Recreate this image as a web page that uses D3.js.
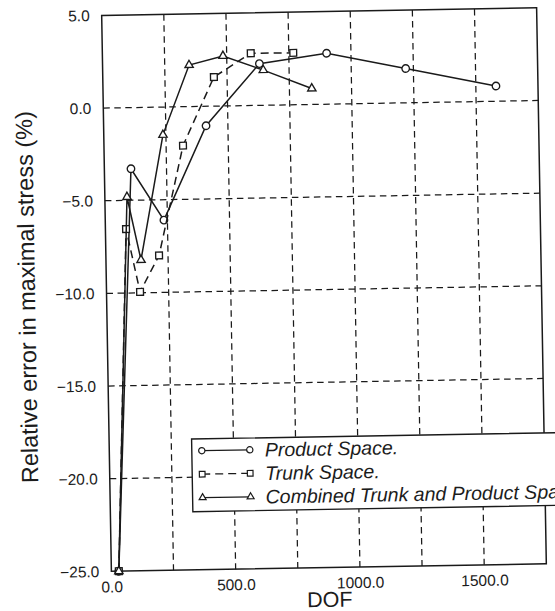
<!DOCTYPE html>
<html>
<head>
<meta charset="utf-8">
<script src="https://cdn.jsdelivr.net/npm/d3@7"></script>
<style>
  html, body { margin: 0; padding: 0; background: #fff; }
  svg { display: block; }
  text { font-family: "Liberation Sans", Arial, Helvetica, sans-serif; fill: #1c1c1c; }
</style>
</head>
<body>
<svg id="chart" width="555" height="611"></svg>
<script>
// Relative error in maximal stress versus number of degrees of freedom
const productDOF   = [30, 107, 236, 412, 631, 902, 1219, 1581];
const productErr   = [-25, -3.3, -6.1, -1.05, 2.25, 2.75, 1.85, 0.82];
const trunkDOF     = [30, 83, 135, 214, 318, 447, 597, 768];
const trunkErr     = [-25, -6.55, -9.95, -8.0, -2.1, 1.57, 2.82, 2.8];
const combinedDOF  = [30, 89, 141, 238, 348, 485, 646, 840];
const combinedErr  = [-25, -4.82, -8.23, -1.5, 2.24, 2.7, 1.9, 0.86];
const seriesNames  = ["Product Space.", "Trunk Space.", "Combined Trunk and Product Space."];
const xTicks       = [0, 500, 1000, 1500];
const xGrid        = [250, 500, 750, 1000, 1250, 1500];
const yTicks       = [5, 0, -5, -10, -15, -20, -25];
const yGrid        = [0, -5, -10, -15, -20];

const ink = "#1a1a1a";
const margin = { left: 106.5, top: 11.6 };
const width = 435, height = 556;

const svg = d3.select("#chart");
// the printed page sits at a slight tilt
const page = svg.append("g").attr("transform", "rotate(-1, 324, 289.6)");
const g = page.append("g").attr("transform", `translate(${margin.left},${margin.top})`);

const x = d3.scaleLinear().domain([0, 1750]).range([0, width]);
const y = d3.scaleLinear().domain([-25, 5]).range([height, 0]);

// grid
g.append("g").selectAll("line").data(xGrid).join("line")
  .attr("x1", d => x(d)).attr("x2", d => x(d))
  .attr("y1", 0).attr("y2", height)
  .attr("stroke", ink).attr("stroke-width", 1.25).attr("stroke-dasharray", "6.5,4.5");
g.append("g").selectAll("line").data(yGrid).join("line")
  .attr("y1", d => y(d)).attr("y2", d => y(d))
  .attr("x1", 0).attr("x2", width)
  .attr("stroke", ink).attr("stroke-width", 1.25).attr("stroke-dasharray", "6.5,4.5");

// frame
g.append("rect").attr("x", 0).attr("y", 0).attr("width", width).attr("height", height)
  .attr("fill", "none").attr("stroke", ink).attr("stroke-width", 1.5);

// axes (labels only; the frame is the axis line)
const xAxis = d3.axisBottom(x).tickValues(xTicks).tickFormat(d3.format(".1f")).tickSize(0).tickPadding(10);
const gx = g.append("g").attr("transform", `translate(0,${height})`).call(xAxis);
gx.select(".domain").remove();
gx.selectAll("text").attr("font-size", 15.5).attr("fill", ink)
  .attr("font-family", '"Liberation Sans", Arial, sans-serif');

const yAxis = d3.axisLeft(y).tickValues(yTicks).tickFormat(d3.format(".1f")).tickSize(0).tickPadding(12);
const gy = g.append("g").call(yAxis);
gy.select(".domain").remove();
gy.selectAll("text").attr("font-size", 15.5).attr("fill", ink)
  .attr("font-family", '"Liberation Sans", Arial, sans-serif');

// axis titles
page.append("text").attr("x", 324.4).attr("y", 607).attr("text-anchor", "middle")
  .attr("font-size", 21.5).text("DOF");
page.append("text").attr("transform", "translate(35,292) rotate(-90)")
  .attr("text-anchor", "middle").attr("font-size", 23.5)
  .text("Relative error in maximal stress (%)");

// series
const series = [
  { name: seriesNames[0], xs: productDOF,  ys: productErr,  dash: null,  symbol: d3.symbolCircle,   size: 44 },
  { name: seriesNames[1], xs: trunkDOF,    ys: trunkErr,    dash: "8,5", symbol: d3.symbolSquare,   size: 46 },
  { name: seriesNames[2], xs: combinedDOF, ys: combinedErr, dash: null,  symbol: d3.symbolTriangle, size: 30 }
];

const line = d3.line().x(d => x(d[0])).y(d => y(d[1]));

series.forEach(s => {
  const pts = s.xs.map((v, i) => [v, s.ys[i]]);
  g.append("path").datum(pts).attr("d", line)
    .attr("fill", "none").attr("stroke", ink).attr("stroke-width", 1.5)
    .attr("stroke-dasharray", s.dash);
  g.append("g").selectAll("path").data(pts).join("path")
    .attr("transform", d => `translate(${x(d[0])},${y(d[1])})`)
    .attr("d", d3.symbol().type(s.symbol).size(s.size))
    .attr("fill", "#fff").attr("stroke", ink).attr("stroke-width", 1.35);
});

// legend
const lg = page.append("g").attr("transform", "translate(189,436.7)");
lg.append("rect").attr("x", 0).attr("y", 0).attr("width", 420).attr("height", 72.7)
  .attr("fill", "#fff").attr("stroke", ink).attr("stroke-width", 1.4);
series.forEach((s, i) => {
  const row = lg.append("g").attr("transform", `translate(0,${11.8 + i * 23.5})`);
  row.append("line").attr("x1", 10).attr("x2", 58).attr("y1", 0).attr("y2", 0)
    .attr("stroke", ink).attr("stroke-width", 1.3).attr("stroke-dasharray", s.dash);
  [10, 58].forEach(px => {
    row.append("path").attr("transform", `translate(${px},0)`)
      .attr("d", d3.symbol().type(s.symbol).size(s.size * 0.7))
      .attr("fill", "#fff").attr("stroke", ink).attr("stroke-width", 1.2);
  });
  row.append("text").attr("x", 73).attr("y", 7).attr("font-size", 19.5)
    .attr("font-style", "italic").text(s.name);
});
</script>
</body>
</html>
